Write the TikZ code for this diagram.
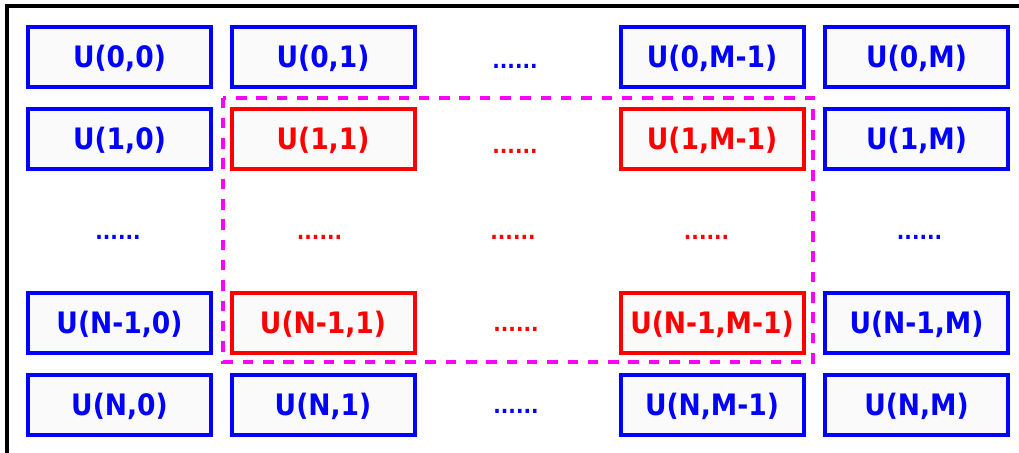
\documentclass[tikz,border=0pt]{standalone}
\usepackage{fontspec}
\newfontfamily\lab{DejaVu Sans Condensed Bold}
\definecolor{ublue}{RGB}{0,0,255}
\definecolor{ured}{RGB}{255,0,0}
\definecolor{umag}{RGB}{255,0,255}
\begin{document}
\begin{tikzpicture}[x=1pt,y=-1pt,
  cell/.style={draw=#1,text=#1,fill=black!2,line width=4pt,minimum width=183pt,minimum height=60pt,inner sep=0pt,text height=25.4pt,text depth=3.9pt,font=\lab\fontsize{29.5}{30}\selectfont},
  dotsnode/.style={text=#1,inner sep=0pt,anchor=base,font=\lab\fontsize{22}{22}\selectfont}]
\useasboundingbox (0,0) rectangle (1019,452);
\clip (0,0) rectangle (1019,452);
\draw[line width=4pt,fill=white] (7,6) rectangle (1060,480);
% row 0
\node[cell=ublue] (u00) at (119.5,57) {U(0,0)};
\node[cell=ublue] (u01) at (323,57) {U(0,1)};
\node[dotsnode=ublue] (d02) at (515,68) {......};
\node[cell=ublue] (u0m1) at (712,57) {U(0,M-1)};
\node[cell=ublue] (u0m) at (916.5,57) {U(0,M)};
% row 1
\node[cell=ublue] (u10) at (119.5,139) {U(1,0)};
\node[cell=ured] (u11) at (323,139) {U(1,1)};
\node[dotsnode=ured] (d12) at (515,153.6) {......};
\node[cell=ured] (u1m1) at (712,139) {U(1,M-1)};
\node[cell=ublue] (u1m) at (916.5,139) {U(1,M)};
% row 2
\node[dotsnode=ublue] (d20) at (118,239.6) {......};
\node[dotsnode=ured] (d21) at (319.5,239.6) {......};
\node[dotsnode=ured] (d22) at (513,239.6) {......};
\node[dotsnode=ured] (d23) at (706.5,239.6) {......};
\node[dotsnode=ublue] (d24) at (919.5,239.6) {......};
% row 3
\node[cell=ublue] (un10) at (119.5,323) {U(N-1,0)};
\node[cell=ured] (un11) at (323,323) {U(N-1,1)};
\node[dotsnode=ured] (d32) at (516,331.3) {......};
\node[cell=ured] (un1m1) at (712,323) {U(N-1,M-1)};
\node[cell=ublue] (un1m) at (916.5,323) {U(N-1,M)};
% row 4
\node[cell=ublue] (un0) at (119.5,404.5) {U(N,0)};
\node[cell=ublue] (un1) at (323,404.5) {U(N,1)};
\node[dotsnode=ublue] (d42) at (516,413.3) {......};
\node[cell=ublue] (unm1) at (712,404.5) {U(N,M-1)};
\node[cell=ublue] (unm) at (916.5,404.5) {U(N,M)};
% dashed region
\draw[umag,line width=4pt,dash pattern=on 10.5pt off 9.8pt] (222.5,97.5) rectangle (813,361.5);
\end{tikzpicture}
\end{document}
